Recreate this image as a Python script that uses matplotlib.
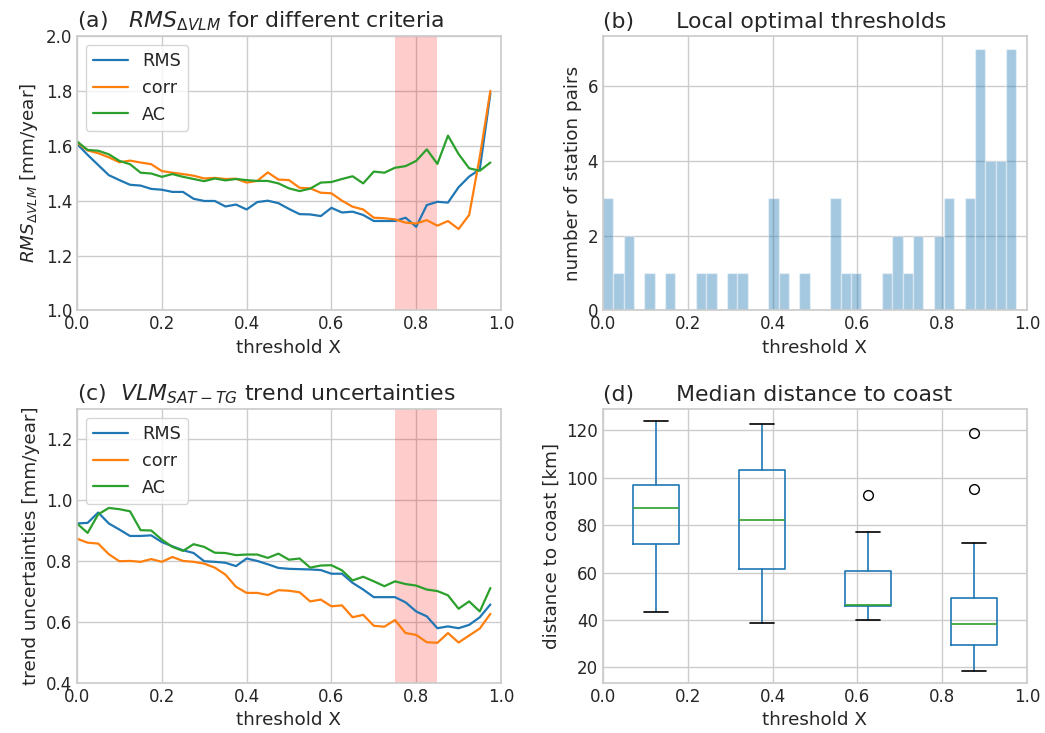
import numpy as np
import matplotlib
matplotlib.use("Agg")
import matplotlib.pyplot as plt
import seaborn as sns

sns.set_theme(style="whitegrid", context="notebook", palette="tab10")
plt.rcParams["font.family"] = ["DejaVu Sans"]

# threshold grid (x axis of panels a and c)
thresholds = np.arange(0, 1.0, 0.025)

# (a) RMS of delta VLM for the three criteria
rms_a = [1.607, 1.567, 1.530, 1.493, 1.475, 1.458, 1.455, 1.443, 1.440, 1.432,
         1.432, 1.407, 1.399, 1.399, 1.379, 1.386, 1.368, 1.395, 1.400, 1.391,
         1.370, 1.351, 1.350, 1.344, 1.374, 1.357, 1.360, 1.348, 1.326, 1.326,
         1.326, 1.338, 1.305, 1.384, 1.396, 1.393, 1.449, 1.488, 1.514, 1.790]
corr_a = [1.612, 1.583, 1.573, 1.558, 1.540, 1.546, 1.539, 1.533, 1.508, 1.502,
          1.497, 1.491, 1.481, 1.483, 1.479, 1.480, 1.466, 1.472, 1.503, 1.477,
          1.475, 1.447, 1.445, 1.429, 1.427, 1.400, 1.378, 1.368, 1.338, 1.336,
          1.332, 1.320, 1.317, 1.329, 1.309, 1.326, 1.297, 1.348, 1.560, 1.800]
ac_a = [1.616, 1.585, 1.582, 1.569, 1.545, 1.533, 1.502, 1.499, 1.487, 1.497,
        1.487, 1.479, 1.471, 1.481, 1.474, 1.479, 1.475, 1.472, 1.472, 1.463,
        1.445, 1.435, 1.444, 1.466, 1.468, 1.479, 1.489, 1.463, 1.506, 1.502,
        1.520, 1.526, 1.545, 1.587, 1.534, 1.637, 1.570, 1.518, 1.509, 1.539]

# (b) number of station pairs per optimal threshold
opt_counts = [3, 1, 2, 0, 1, 0, 1, 0, 0, 1,
              1, 0, 1, 1, 0, 0, 3, 1, 0, 1,
              0, 0, 3, 1, 1, 0, 0, 1, 2, 1,
              2, 0, 2, 3, 0, 3, 7, 4, 4, 7]

# (c) trend uncertainties
rms_c = [0.924, 0.926, 0.960, 0.924, 0.904, 0.883, 0.883, 0.885, 0.863, 0.849,
         0.836, 0.827, 0.800, 0.798, 0.795, 0.784, 0.809, 0.801, 0.790, 0.778,
         0.775, 0.774, 0.773, 0.771, 0.759, 0.759, 0.729, 0.707, 0.682, 0.682,
         0.682, 0.665, 0.635, 0.619, 0.580, 0.586, 0.580, 0.591, 0.616, 0.658]
corr_c = [0.874, 0.861, 0.858, 0.823, 0.800, 0.801, 0.798, 0.807, 0.798, 0.814,
          0.801, 0.798, 0.792, 0.779, 0.756, 0.716, 0.696, 0.696, 0.689, 0.705,
          0.703, 0.698, 0.668, 0.674, 0.652, 0.655, 0.616, 0.624, 0.588, 0.585,
          0.607, 0.564, 0.558, 0.534, 0.532, 0.564, 0.533, 0.556, 0.579, 0.627]
ac_c = [0.924, 0.893, 0.954, 0.975, 0.971, 0.964, 0.902, 0.901, 0.871, 0.847,
        0.834, 0.856, 0.847, 0.828, 0.827, 0.820, 0.822, 0.822, 0.811, 0.825,
        0.805, 0.809, 0.779, 0.786, 0.787, 0.770, 0.737, 0.749, 0.734, 0.718,
        0.734, 0.725, 0.720, 0.707, 0.702, 0.688, 0.644, 0.668, 0.635, 0.712]

# (d) distance to coast per threshold class
box_pos = [0.125, 0.375, 0.625, 0.875]
box_low = [43.3, 38.7, 39.9, 18.7]
box_q1 = [72.0, 61.4, 45.8, 29.6]
box_med = [87.2, 82.1, 46.3, 38.2]
box_q3 = [97.0, 103.3, 60.5, 49.4]
box_high = [123.7, 122.8, 76.9, 72.4]
box_fliers = [[], [], [92.7], [119.0, 95.2]]

TXT = "0.15"
TICK = 12
LAB = 13.2
TIT = 15.8
LEG = 12.7
LW = 1.6


def style(ax, ylabel):
    ax.set_xlim(0, 1)
    ax.set_xticks([0, 0.2, 0.4, 0.6, 0.8, 1.0])
    ax.set_xlabel("threshold X", fontsize=LAB, color=TXT)
    ax.set_ylabel(ylabel, fontsize=LAB, color=TXT)
    ax.tick_params(labelsize=TICK, colors=TXT, length=0)
    for s in ax.spines.values():
        s.set_color("0.8")


fig = plt.figure(figsize=(10.45, 7.33), dpi=100)
ax_a = fig.add_axes([0.0737, 0.5764, 0.4057, 0.3745])
ax_b = fig.add_axes([0.5770, 0.5764, 0.4057, 0.3745])
ax_c = fig.add_axes([0.0737, 0.0682, 0.4057, 0.3738])
ax_d = fig.add_axes([0.5770, 0.0682, 0.4057, 0.3738])

# panel a
ax_a.plot(thresholds, rms_a, label="RMS", lw=LW)
ax_a.plot(thresholds, corr_a, label="corr", lw=LW)
ax_a.plot(thresholds, ac_a, label="AC", lw=LW)
ax_a.axvspan(0.75, 0.85, color="red", alpha=0.2, lw=0)
ax_a.set_ylim(1.0, 2.0)
style(ax_a, r"$RMS_{\Delta VLM}$ [mm/year]")
ax_a.set_title(r"(a)   $RMS_{\Delta VLM}$ for different criteria", loc="left",
               fontsize=TIT, color=TXT)
ax_a.legend(loc="upper left", fontsize=LEG)

# panel b
ax_b.hist(np.repeat(thresholds, opt_counts), bins=40, color="tab:blue", alpha=0.4,
          edgecolor="white", linewidth=1)
ax_b.set_yticks([0, 2, 4, 6])
style(ax_b, "number of station pairs")
ax_b.set_title("(b)      Local optimal thresholds", loc="left",
               fontsize=TIT, color=TXT)

# panel c
ax_c.plot(thresholds, rms_c, label="RMS", lw=LW)
ax_c.plot(thresholds, corr_c, label="corr", lw=LW)
ax_c.plot(thresholds, ac_c, label="AC", lw=LW)
ax_c.axvspan(0.75, 0.85, color="red", alpha=0.2, lw=0)
ax_c.set_ylim(0.4, 1.3)
ax_c.set_yticks([0.4, 0.6, 0.8, 1.0, 1.2])
style(ax_c, "trend uncertainties [mm/year]")
ax_c.set_title(r"(c)  $VLM_{SAT-TG}$ trend uncertainties", loc="left",
               fontsize=TIT, color=TXT)
ax_c.legend(loc="upper left", fontsize=LEG)

# panel d
stats = []
for i in range(len(box_pos)):
    stats.append({"whislo": box_low[i], "q1": box_q1[i], "med": box_med[i],
                  "q3": box_q3[i], "whishi": box_high[i], "fliers": box_fliers[i]})
ax_d.bxp(stats, positions=box_pos, widths=0.11, manage_ticks=False,
         boxprops=dict(color="tab:blue", linewidth=1.2),
         whiskerprops=dict(color="tab:blue", linewidth=1.2),
         capprops=dict(color="k", linewidth=1.2),
         medianprops=dict(color="tab:green", linewidth=1.2),
         flierprops=dict(marker="o", markerfacecolor="none",
                         markeredgecolor="k", markersize=7))
ax_d.set_yticks([20, 40, 60, 80, 100, 120])
style(ax_d, "distance to coast [km]")
ax_d.set_title("(d)      Median distance to coast", loc="left",
               fontsize=TIT, color=TXT)

fig.savefig("out.png", dpi=100)
